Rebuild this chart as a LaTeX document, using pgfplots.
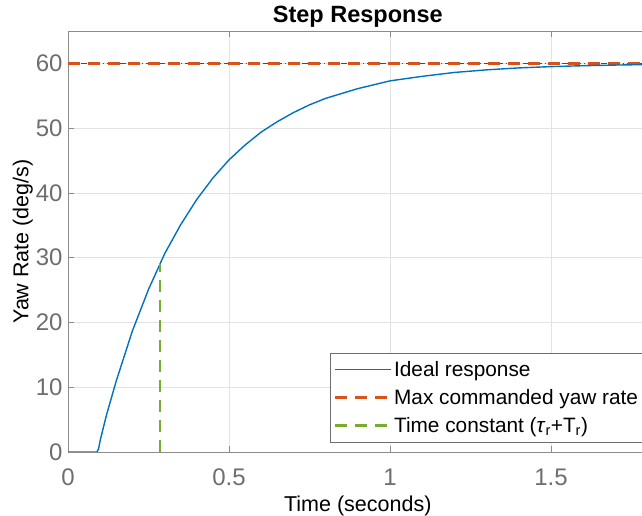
\documentclass[border=0pt]{standalone}
\usepackage{pgfplots}
\pgfplotsset{compat=1.18}
\usepackage{fontspec}
\setmainfont{Liberation Sans}
\definecolor{mblue}{HTML}{0072BD}
\definecolor{morange}{HTML}{D95319}
\definecolor{mgreen}{HTML}{77AC30}
\definecolor{axgray}{HTML}{8C8C8C}
\definecolor{tickgray}{HTML}{6E6E6E}
\definecolor{gridgray}{HTML}{E3E3E3}
\begin{document}
\begin{tikzpicture}
\begin{axis}[
  scale only axis,
  width=579.6pt, height=421pt,
  xmin=0, xmax=1.8, ymin=0, ymax=65,
  xtick={0,0.5,1,1.5}, ytick={0,10,...,60},
  xticklabels={0,0.5,1,1.5},
  /pgf/number format/assume math mode=true,
  tick label style={font=\fontsize{24}{27}\selectfont, text=tickgray},
  xticklabel style={yshift=-13pt},
  yticklabel style={xshift=-2pt},
  axis line style={axgray, line width=0.8pt},
  tick style={axgray, line width=0.8pt},
  major tick length=6pt,
  tick align=inside,
  xtick pos=both, ytick pos=both,
  grid=major,
  major grid style={gridgray, line width=0.8pt},
  title={\bfseries Step Response},
  title style={font=\fontsize{23.5}{26}\selectfont, yshift=-6pt},
  xlabel={Time (seconds)},
  ylabel={Yaw Rate (deg/s)},
  label style={font=\fontsize{21.5}{24}\selectfont},
  xlabel style={yshift=-4pt},
  ylabel style={yshift=-4pt},
  legend cell align=left,
  legend style={at={(axis cs:0.814,15.3)}, anchor=north west,
    font=\fontsize{20.8}{23}\selectfont, draw=tickgray, line width=0.8pt,
    row sep=7.5pt, inner xsep=3pt, inner ysep=6pt},
]
\addplot[mblue, line width=0.6pt, legend image code/.code={\draw[mblue, line width=0.6pt] (0pt,0pt) -- (56pt,0pt);}] coordinates {(-1,-10) (-0.9,-10)};
\addlegendentry{Ideal response}
\addplot[morange, line width=2.6pt, dash pattern=on 12pt off 8pt, legend image code/.code={\draw[morange, line width=2.6pt, dash pattern=on 12pt off 8pt] (0pt,0pt) -- (56pt,0pt);}] coordinates {(-1,-10) (-0.9,-10)};
\addlegendentry{Max commanded yaw rate}
\addplot[mgreen, line width=2.6pt, dash pattern=on 12pt off 8pt, legend image code/.code={\draw[mgreen, line width=2.6pt, dash pattern=on 12pt off 8pt] (0pt,0pt) -- (56pt,0pt);}] coordinates {(-1,-10) (-0.9,-10)};
\addlegendentry{Time constant (\textit{τ}\textsubscript{r}+T\textsubscript{r})}
% steady-state reference line
\addplot[black!70, line width=0.5pt, dash pattern=on 6pt off 3pt on 1pt off 3pt, forget plot] coordinates {(0,60) (1.8,60)};
\addplot[morange, line width=2.6pt, dash pattern=on 12pt off 8pt, forget plot] coordinates {(0,60) (1.8,60)};
\addplot[mblue, line width=1.4pt, forget plot] coordinates {
(0,0) (0.09,0) (0.095,0.5) (0.1,1.8) (0.12,5.8) (0.15,11.0) (0.2,18.7) (0.25,25.1) (0.3,30.6) (0.35,35.1) (0.4,39.0) (0.45,42.3) (0.5,45.1) (0.55,47.4) (0.6,49.4) (0.65,51.0) (0.7,52.4) (0.75,53.6) (0.8,54.6) (0.9,56.1) (1.0,57.3) (1.1,58.0) (1.2,58.6) (1.3,59.0) (1.4,59.3) (1.5,59.5) (1.6,59.64) (1.7,59.74) (1.8,59.82)};
\addplot[mgreen, line width=2.6pt, dash pattern=on 12pt off 8pt, forget plot] coordinates {(0.286,0) (0.286,29.0)};
\end{axis}
\pgfresetboundingbox
\useasboundingbox ([xshift=-68pt,yshift=-64pt]current axis.south west) rectangle ([xshift=-5.6pt,yshift=31pt]current axis.north east);
\end{tikzpicture}
\end{document}
